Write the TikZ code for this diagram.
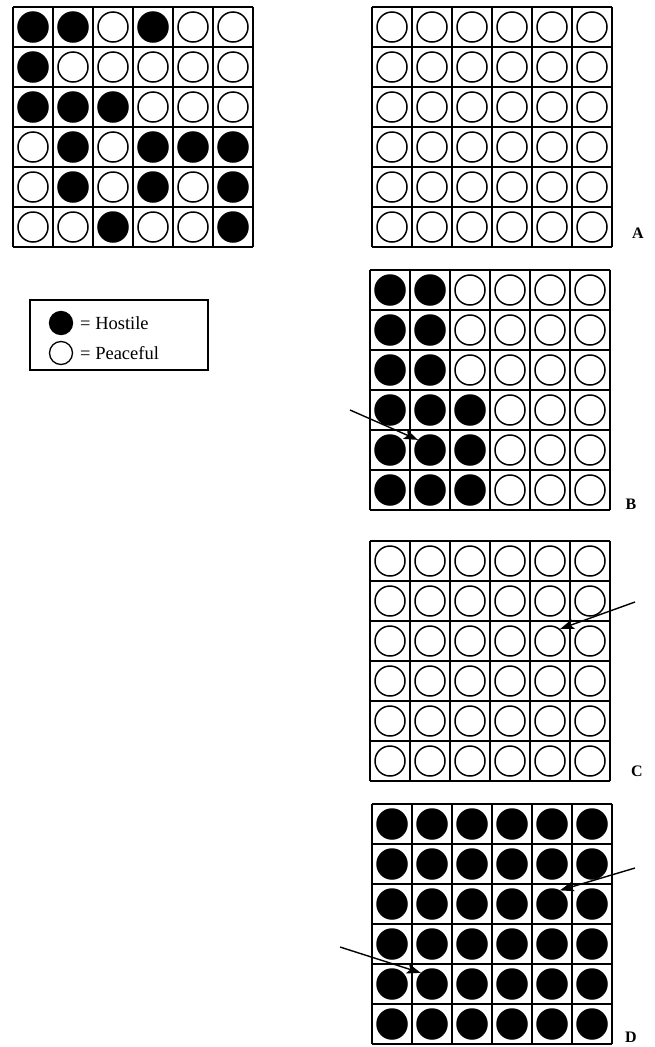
\documentclass[tikz,border=0pt]{standalone}
\usepackage{fontspec}
\setmainfont{Liberation Serif}
\usetikzlibrary{arrows.meta}
\tikzset{
 dot/.style={circle,draw,line width=1.5pt,minimum size=30pt,inner sep=0pt},
 cell0/.style={dot,fill=white},
 cell1/.style={dot,fill=black},
 key/.style={circle,draw,line width=1.3pt,minimum size=23pt,inner sep=0pt},
 keytext/.style={anchor=west,inner sep=0pt,font=\fontsize{18.5}{18.5}\selectfont},
 tag/.style={font=\fontsize{16}{16}\selectfont\bfseries},
 pointer/.style={->,line width=1.4pt}
}
\newcommand{\board}[4]{%
 \begin{scope}[shift={(#2,#3)}]
  \foreach \i in {0,...,6}{
   \draw[line width=1.5pt] (\i*40,0)--(\i*40,240);
   \draw[line width=1.5pt] (0,\i*40)--(240,\i*40);}
  \foreach \row [count=\r] in {#4}
   \foreach \v [count=\c] in \row
    \node[cell\v] (#1-\r-\c) at (\c*40-20,\r*40-20) {};
 \end{scope}}
\begin{document}
\begin{tikzpicture}[x=1pt,y=-1pt,>={Stealth[length=14pt,width=10pt,inset=3pt]}]
 \useasboundingbox (0,0) rectangle (654,1047);
 \board{S}{13}{7}{{1,1,0,1,0,0},{1,0,0,0,0,0},{1,1,1,0,0,0},{0,1,0,1,1,1},{0,1,0,1,0,1},{0,0,1,0,0,1}}
 \board{A}{372}{7}{{0,0,0,0,0,0},{0,0,0,0,0,0},{0,0,0,0,0,0},{0,0,0,0,0,0},{0,0,0,0,0,0},{0,0,0,0,0,0}}
 \board{B}{370}{270}{{1,1,0,0,0,0},{1,1,0,0,0,0},{1,1,0,0,0,0},{1,1,1,0,0,0},{1,1,1,0,0,0},{1,1,1,0,0,0}}
 \board{C}{370}{541}{{0,0,0,0,0,0},{0,0,0,0,0,0},{0,0,0,0,0,0},{0,0,0,0,0,0},{0,0,0,0,0,0},{0,0,0,0,0,0}}
 \board{D}{372}{804}{{1,1,1,1,1,1},{1,1,1,1,1,1},{1,1,1,1,1,1},{1,1,1,1,1,1},{1,1,1,1,1,1},{1,1,1,1,1,1}}
 \node[tag] (lab-A) at (638,233) {A};
 \node[tag] (lab-B) at (631,504) {B};
 \node[tag] (lab-C) at (637,771) {C};
 \node[tag] (lab-D) at (631,1037) {D};
 \draw[line width=1.2pt] (30,300) rectangle (208,370);
 \node[key,fill=black] (key-h) at (61,323) {};
 \node[key,fill=white] (key-p) at (61,353) {};
 \node[keytext] (txt-h) at (80,323) {= Hostile};
 \node[keytext] (txt-p) at (80,353) {= Peaceful};
 \coordinate (b-tail) at (350,410);
 \coordinate (c-tail) at (635,602);
 \coordinate (d-tail1) at (635,868);
 \coordinate (d-tail2) at (340,947);
 \draw[pointer] (b-tail) -- (B-5-2.140);
 \draw[pointer] (c-tail) -- (C-3-5.50);
 \draw[pointer] (d-tail1) -- (D-3-5.60);
 \draw[pointer] (d-tail2) -- (D-5-2.135);
\end{tikzpicture}
\end{document}
